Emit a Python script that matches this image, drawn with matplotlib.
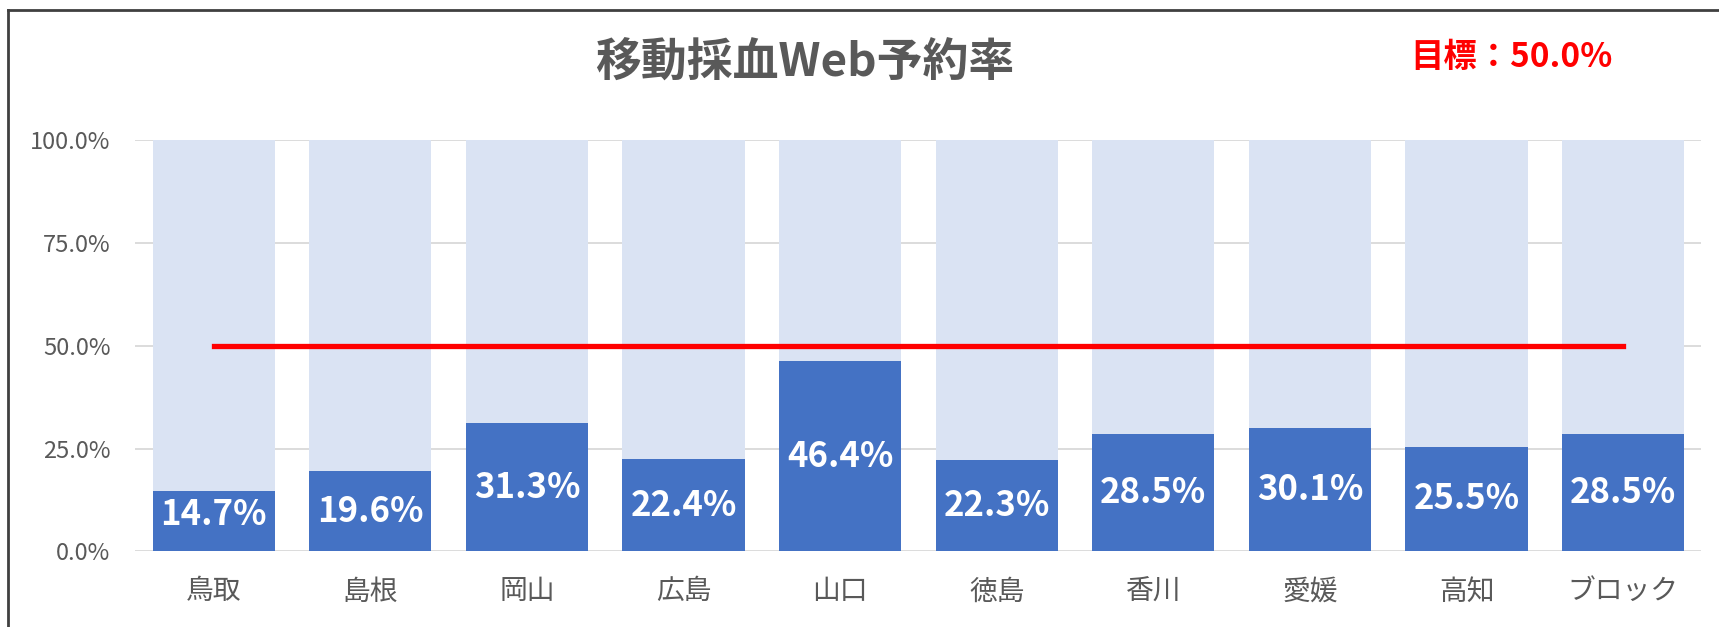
import matplotlib
matplotlib.use("Agg")
import matplotlib.pyplot as plt
from matplotlib.lines import Line2D

plt.rcParams['font.family'] = ['Noto Sans CJK JP', 'DejaVu Sans']

# data
prefs = ['鳥取', '島根', '岡山', '広島', '山口', '徳島', '香川', '愛媛', '高知', 'ブロック']
rates = [14.7, 19.6, 31.3, 22.4, 46.4, 22.3, 28.5, 30.1, 25.5, 28.5]
full = [100.0] * len(prefs)
target = 50.0
yticks = [0, 25, 50, 75, 100]

dark = '#4472C4'
light = '#DAE3F3'
gray = '#595959'

fig = plt.figure(figsize=(17.19, 6.27), dpi=100)
ax = fig.add_axes([0.0788, 0.1206, 0.911, 0.6557])

x = list(range(len(prefs)))
ax.bar(x, full, width=0.78, color=light, zorder=2)
ax.bar(x, rates, width=0.78, color=dark, zorder=3)

for xi, v in zip(x, rates):
    ax.text(xi, max(v / 2, 9), f'{v:.1f}%', ha='center', va='center',
            color='white', fontsize=25, fontweight='bold', zorder=5)

# target line from first to last category center
ax.plot([x[0], x[-1]], [target, target], color='#FF0000', lw=3.8, zorder=4)

ax.set_xlim(-0.5, len(prefs) - 0.5)
ax.set_ylim(0, 100)
ax.set_yticks(yticks)
ax.set_yticklabels([f'{t:.1f}%' for t in yticks])
ax.set_xticks(x)
ax.set_xticklabels(prefs)
ax.tick_params(axis='y', length=0, pad=18, labelsize=17, labelcolor=gray)
ax.tick_params(axis='x', length=0, pad=18, labelsize=20, labelcolor=gray)
ax.grid(axis='y', color='#D9D9D9', lw=1.3, zorder=1)
ax.set_axisbelow(True)
for s in ax.spines.values():
    s.set_visible(False)

fig.text(0.468, 0.899, '移動採血Web予約率', ha='center', va='center',
         fontsize=33, fontweight='bold', color=gray)
fig.text(0.879, 0.909, '目標：50.0%', ha='center', va='center',
         fontsize=24, fontweight='bold', color='#FF0000')

# chart frame (left and top edges visible)
fig.add_artist(Line2D([0.0048, 0.0048], [0.0, 0.984], transform=fig.transFigure,
                      color='#404040', lw=2))
fig.add_artist(Line2D([0.0048, 1.0], [0.984, 0.984], transform=fig.transFigure,
                      color='#404040', lw=2))

fig.savefig('out.png', dpi=100)
